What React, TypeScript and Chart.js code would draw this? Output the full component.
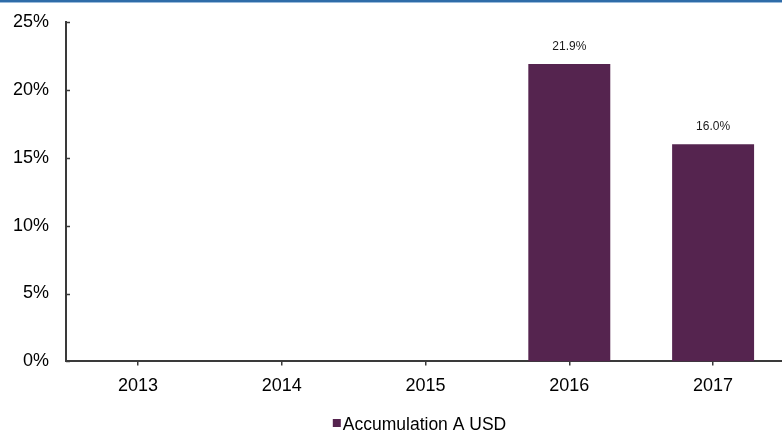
import React, { useEffect, useRef } from "react";
import { Chart, registerables } from "chart.js";

Chart.register(...registerables);

const categories = ["2013", "2014", "2015", "2016", "2017"];
const seriesLabel = "Accumulation A USD";
const accumulationValues: (number | null)[] = [null, null, null, 21.9, 16.0];
const yTickValues = [0, 5, 10, 15, 20, 25];

const BAR_COLOR = "#55244F";
const AXIS_COLOR = "#3a3a3a";
const FONT = "'Liberation Sans', Arial, sans-serif";

const decorPlugin = {
  id: "decor",
  afterDraw(chart: any) {
    const { ctx, chartArea } = chart;
    ctx.save();
    // top blue rule
    ctx.fillStyle = "#2F6CA8";
    ctx.fillRect(0, 0, chart.width, 2);
    ctx.fillStyle = "#9BBBDB";
    ctx.fillRect(0, 2, chart.width, 1);

    // inward y ticks
    const y = chart.scales.y;
    ctx.strokeStyle = AXIS_COLOR;
    ctx.lineWidth = 1.5;
    yTickValues.forEach((v) => {
      const py = Math.round(y.getPixelForValue(v)) + 0.5;
      ctx.beginPath();
      ctx.moveTo(chartArea.left, py);
      ctx.lineTo(chartArea.left + 4, py);
      ctx.stroke();
    });

    // value labels
    const meta = chart.getDatasetMeta(0);
    ctx.font = `12px ${FONT}`;
    ctx.fillStyle = "#1a1a1a";
    ctx.textAlign = "center";
    ctx.textBaseline = "middle";
    meta.data.forEach((bar: any, i: number) => {
      const v = chart.data.datasets[0].data[i];
      if (v == null) return;
      ctx.fillText(`${Number(v).toFixed(1)}%`, bar.x, bar.y - 17);
    });

    // legend
    const ds = chart.data.datasets[0];
    ctx.font = `17.5px ${FONT}`;
    const tw = ctx.measureText(ds.label).width;
    const box = 8;
    const total = box + 2 + tw;
    const cx = (chartArea.left + chartArea.right) / 2 - 6;
    const sx = cx - total / 2;
    const ly = 424;
    ctx.fillStyle = ds.backgroundColor;
    ctx.fillRect(sx, ly - 5, box, box);
    ctx.fillStyle = "#000";
    ctx.textAlign = "left";
    ctx.textBaseline = "middle";
    ctx.fillText(ds.label, sx + box + 2, ly + 1);
    ctx.restore();
  },
};

export default function App() {
  const ref = useRef<HTMLCanvasElement>(null);
  useEffect(() => {
    document.body.style.margin = "0";
    const chart = new Chart(ref.current!, {
      type: "bar",
      data: {
        labels: categories,
        datasets: [
          {
            label: seriesLabel,
            data: accumulationValues,
            backgroundColor: BAR_COLOR,
            borderWidth: 0,
            categoryPercentage: 1,
            barPercentage: 0.57,
          },
        ],
      },
      options: {
        animation: false,
        responsive: false,
        devicePixelRatio: 1,
        layout: { padding: { top: 22, right: 3, bottom: 25, left: 0 } },
        plugins: {
          legend: { display: false },
          tooltip: { enabled: false },
        },
        scales: {
          x: {
            grid: {
              display: true,
              drawOnChartArea: false,
              drawTicks: true,
              tickLength: 4,
              offset: false,
              color: AXIS_COLOR,
              lineWidth: 1.5,
            },
            border: { display: true, color: AXIS_COLOR, width: 2 },
            ticks: {
              padding: 10,
              color: "#000",
              font: { family: FONT, size: 18 },
              maxRotation: 0,
            },
          },
          y: {
            min: 0,
            max: 25,
            afterBuildTicks: (scale: any) => {
              scale.ticks = yTickValues.map((v) => ({ value: v }));
            },
            afterFit: (scale: any) => {
              scale.width = 66;
              scale.paddingTop = 0;
              scale.paddingBottom = 0;
            },
            grid: { display: false, drawTicks: false },
            border: { display: true, color: AXIS_COLOR, width: 2 },
            ticks: {
              padding: 17,
              color: "#000",
              font: { family: FONT, size: 18 },
              callback: (v: any) => `${v}%`,
            },
          },
        },
      },
      plugins: [decorPlugin],
    });
    return () => chart.destroy();
  }, []);
  return (
    <div style={{ position: "fixed", left: 0, top: 0, width: 782, height: 432, overflow: "hidden", background: "#fff" }}>
      <canvas ref={ref} width={788} height={432} style={{ display: "block" }} />
    </div>
  );
}
